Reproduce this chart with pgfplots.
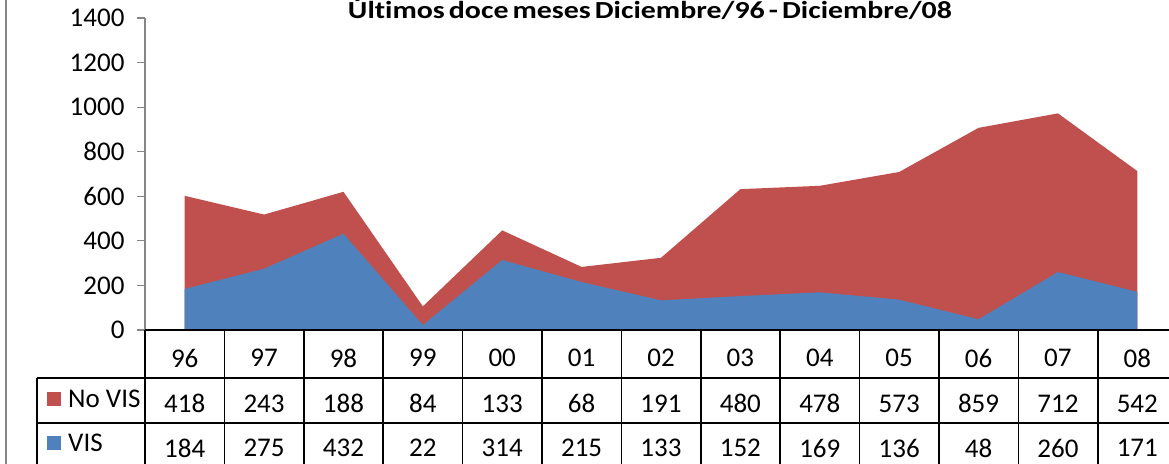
\documentclass[border=0pt]{standalone}
\usepackage{pgfplots}
\pgfplotsset{compat=1.18}
\usepackage{pgfplotstable}
\usepackage{fontspec}
\setmainfont[Ligatures=NoCommon]{Carlito}
\newfontfamily\titlefont[Ligatures=NoCommon, WordSpace=0.6]{Carlito}
\definecolor{novis}{HTML}{C0504D}
\definecolor{vis}{HTML}{4F81BD}
\definecolor{axgray}{HTML}{868686}
\newcommand{\fs}{\fontsize{27bp}{31bp}\selectfont}

\pgfplotstableread{
x vis novis
0 184 418
1 275 243
2 432 188
3 22 84
4 314 133
5 215 68
6 133 191
7 152 480
8 169 478
9 136 573
10 48 859
11 260 712
12 171 542
}\datatable

\begin{document}
\begin{tikzpicture}[x=1bp,y=1bp]
\useasboundingbox (0,0) rectangle (1169,464);
\begin{axis}[
  at={(145bp,134bp)}, anchor=south west, scale only axis,
  width=1032bp, height=312bp,
  xmin=-0.5, xmax=12.5, ymin=0, ymax=1400,
  clip=false,
  axis lines*=left,
  x axis line style={draw=none},
  y axis line style={axgray, line width=1.2bp, -},
  ytick={0,200,...,1400},
  tick align=outside,
  major tick length=8bp,
  ytick style={axgray, line width=1.2bp},
  xtick={0,...,12},
  xticklabels={96,97,98,99,00,01,02,03,04,05,06,07,08},
  xtick style={draw=none},
  xticklabel style={anchor=center, yshift=-20bp, font=\fs},
  yticklabel style={font=\fs, xshift=-9bp},
  /pgf/number format/assume math mode=true,
  /pgf/number format/set thousands separator={},
  nodes near coords style={anchor=center, font=\fs, black},
]
\addplot[fill=novis, draw=none] table[x=x, y expr=\thisrow{vis}+\thisrow{novis}] {\datatable} \closedcycle;
\addplot[fill=vis, draw=none] table[x=x, y=vis] {\datatable} \closedcycle;
\addplot[draw=none, no marks, nodes near coords, point meta=explicit] table[x=x, y expr=-330, meta=novis] {\datatable};
\addplot[draw=none, no marks, nodes near coords, point meta=explicit] table[x=x, y expr=-530, meta=vis] {\datatable};
\end{axis}
% outer border
\draw[axgray, line width=1.5bp] (6,0) -- (6,464);
% data table grid
\begin{scope}[line width=1.5bp, black]
\draw (145,134) -- (1180,134);
\draw (37,86) -- (1180,86);
\draw (37,41) -- (1180,41);
\draw (37,86) -- (37,-5);
\foreach \k in {0,...,13} {\draw ({145+79.4*\k},134) -- ({145+79.4*\k},-5);}
\end{scope}
% legend keys
\fill[novis] (47,58) rectangle (61,72);
\fill[vis] (47,14) rectangle (61,28);
\node[anchor=base west, font=\fs, inner sep=0] at (68,56) {No VIS};
\node[anchor=base west, font=\fs, inner sep=0] at (68,12) {VIS};
% title
\node[anchor=base, font=\fontsize{24.5bp}{28bp}\titlefont\bfseries, inner sep=0, xscale=1.22] at (650,445) {Últimos doce meses Diciembre/96 - Diciembre/08};
\end{tikzpicture}
\end{document}
